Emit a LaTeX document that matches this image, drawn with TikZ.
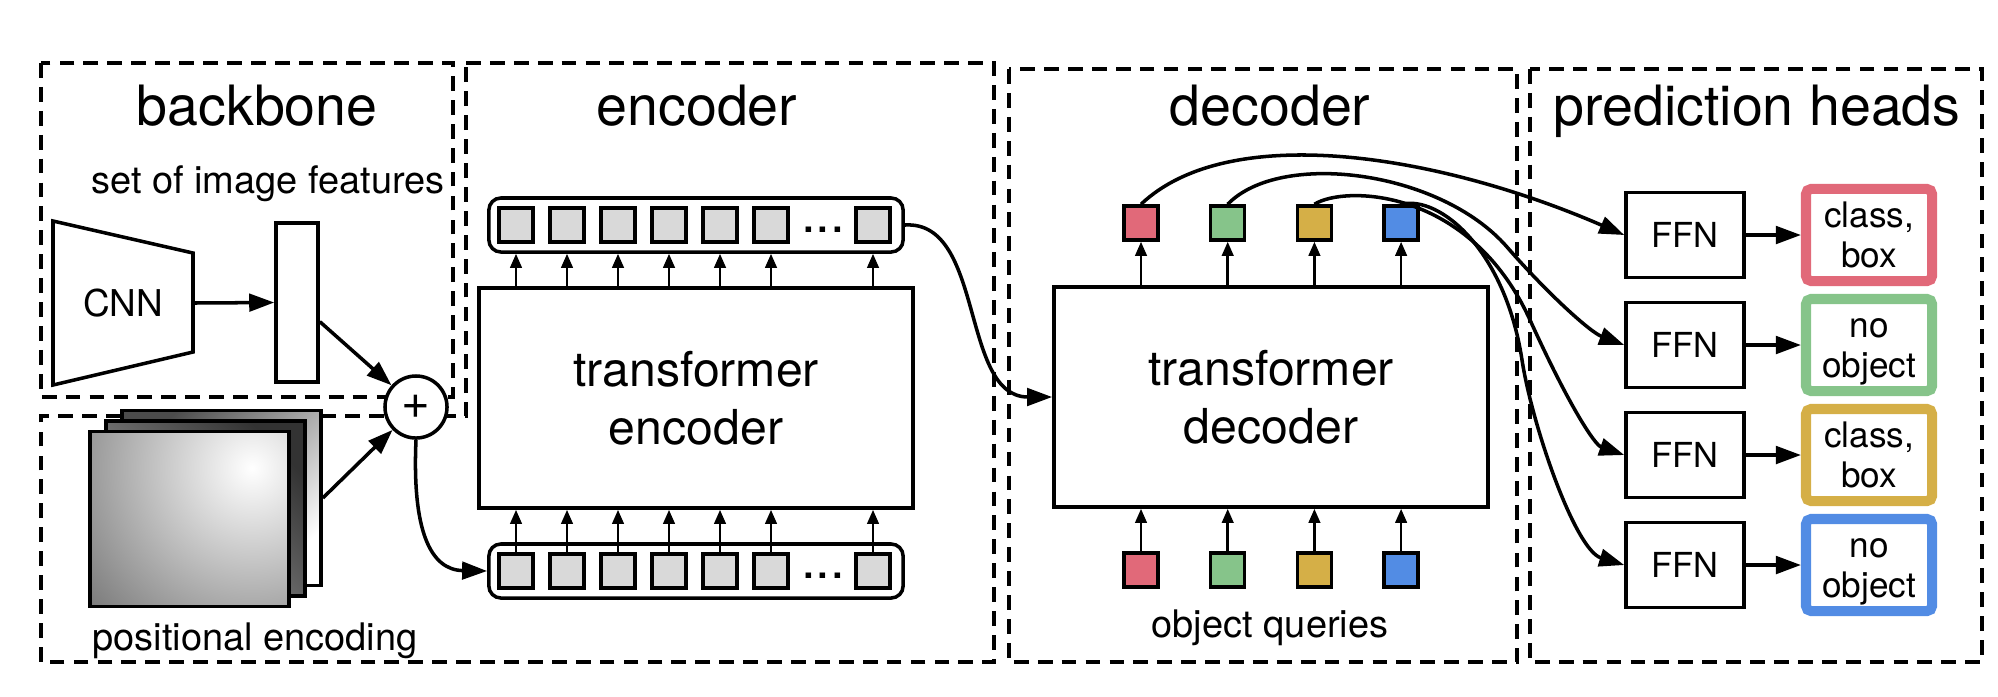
\documentclass[tikz,border=0pt]{standalone}
\usepackage{fontspec}
\setmainfont{TeX Gyre Heros}
\usetikzlibrary{arrows.meta}
\definecolor{qred}{RGB}{225,105,121}
\definecolor{qgreen}{RGB}{134,196,138}
\definecolor{qyellow}{RGB}{213,175,71}
\definecolor{qblue}{RGB}{82,140,228}
\definecolor{tokgray}{RGB}{217,217,217}
\tikzset{
    region/.style={draw, line width=1.05pt, dash pattern=on 4.2pt off 2.6pt},
    regiontitle/.style={anchor=base, font=\fontsize{15.8}{19}\selectfont},
    note/.style={anchor=base, font=\fontsize{10.8}{13}\selectfont},
    bigbox/.style={draw, minimum width=4.34cm, minimum height=2.2cm, inner sep=0pt, align=center, font=\fontsize{13.7}{16.5}\selectfont},
    bar/.style={draw, rounded corners=1.2mm, minimum width=4.14cm, minimum height=5.4mm, inner sep=0pt},
    token/.style={draw, fill=tokgray, minimum size=3.4mm, inner sep=0pt},
    query/.style={draw, minimum size=3.4mm, inner sep=0pt},
    imgframe/.style={draw, minimum width=1.99cm, minimum height=1.75cm, inner sep=0pt},
    ffnbox/.style={draw, minimum width=1.18cm, minimum height=8.5mm, inner sep=0pt, font=\fontsize{9.8}{12}\selectfont},
    outbox/.style={draw, line width=2.85pt, rounded corners=0.5mm, minimum width=1.26cm, minimum height=9.2mm, inner sep=0pt, align=center, text depth=0pt, font=\fontsize{10}{11.4}\selectfont},
    tinyarr/.style={-{Triangle[length=1.4mm,width=1.15mm]}, line width=0.7pt}
}
\begin{document}
\begin{tikzpicture}[x=0.01cm, y=-0.01cm, line width=1pt, >={Triangle[length=2.5mm,width=1.75mm]}]
    \useasboundingbox (0,0) rectangle (1998,696);

    \draw[region] (41,63) rectangle (453,397);
    \draw[region] (466,63) -- (994,63) -- (994,662) -- (41,662) -- (41,416) -- (466,416) -- cycle;
    \draw[region] (1009,69) rectangle (1517,662);
    \draw[region] (1530,69) rectangle (1982,662);

    \node[regiontitle] (tbackbone) at (257,125) {backbone};
    \node[regiontitle] (tencoder) at (697,125) {encoder};
    \node[regiontitle] (tdecoder) at (1270,125) {decoder};
    \node[regiontitle] (theads) at (1757,125) {prediction heads};

    \node[note] (feattxt) at (268,193) {set of image features};
    \draw (53,221) -- (193,253) -- (193,352) -- (53,385) -- cycle;
    \node[font=\fontsize{10.5}{12}\selectfont] (cnn) at (123,303) {CNN};
    \coordinate (cnnout) at (193,303);
    \node[draw, minimum width=4.2mm, minimum height=15.9mm, inner sep=0pt] (feat) at (297,302.5) {};
    \draw[->] (cnnout) -- (feat.west);

    \shade[top color=black!70, bottom color=white, shading angle=45] (122,411) rectangle (321,585);
    \node[imgframe] (pe1) at (221.5,498) {};
    \shade[top color=black!80, bottom color=black!40, shading angle=-45] (106,421) rectangle (305,596);
    \node[imgframe] (pe2) at (205.5,508.5) {};
    \begin{scope}
        \clip (90,431) rectangle (289,607);
        \shade[inner color=white, outer color=black!90] (252,468) circle (370);
    \end{scope}
    \node[imgframe] (pe3) at (189.5,519) {};
    \node[note] (petxt) at (255,650) {positional encoding};

    \node[circle, draw, fill=white, minimum size=6.2mm, inner sep=0pt, font=\fontsize{14}{14}\selectfont] (plus) at (416,407) {+};
    \draw[->] (feat.-40) -- (plus);
    \draw[->] (pe1.east) -- (plus);

    \node[bigbox] (enc) at (696,398) {transformer\\encoder};
    \node[bar] (upbar) at (696,225) {};
    \node[bar] (lowbar) at (696,571) {};
    \foreach \k in {0,1,2,3,4,5,7} {
        \node[token] (up\k) at (516+51*\k,225) {};
        \node[token] (low\k) at (516+51*\k,571) {};
        \draw[tinyarr] (enc.north -| up\k) -- (upbar.south -| up\k);
        \draw[tinyarr] (low\k.north) -- (enc.south -| low\k);
    }
    \node[anchor=base, font=\fontsize{15}{16}\selectfont] (dotsup) at (823,232) {...};
    \node[anchor=base, font=\fontsize{15}{16}\selectfont] (dotslow) at (823,578) {...};
    \draw[->] (plus.south) .. controls (412,530) and (430,570) .. (lowbar.west);

    \node[bigbox] (dec) at (1271,397) {transformer\\decoder};
    \draw[->] (upbar.east) .. controls (985,220) and (960,397) .. (dec.west);
    \foreach \c/\t [count=\i] in {qred/{class,\\box}, qgreen/{no\vphantom{l}\\object}, qyellow/{class,\\box}, qblue/{no\vphantom{l}\\object}} {
        \node[query, fill=\c] (q\i) at (1054.3+86.7*\i,223) {};
        \node[query, fill=\c] (qin\i) at (1054.3+86.7*\i,570) {};
        \draw[tinyarr] (dec.north -| q\i) -- (q\i.south);
        \draw[tinyarr] (qin\i.north) -- (dec.south -| qin\i);
        \node[ffnbox] (ffn\i) at (1685,125+110*\i) {FFN};
        \node[outbox, draw=\c] (out\i) at (1869,125+110*\i) {\t};
        \draw[->] (ffn\i.east) -- (out\i.west);
    }
    \node[note] (oqtxt) at (1270,637) {object queries};

    \draw[->] (q1.north) .. controls (1230,120) and (1440,155) .. (ffn1.west);
    \draw[->] (q2.north) .. controls (1280,150) and (1440,170) .. (1507,247) .. controls (1547,293) and (1590,332) .. (ffn2.west);
    \draw[->] (q3.north) .. controls (1345,185) and (1470,188) .. (1530,320) .. controls (1570,408) and (1595,445) .. (ffn3.west);
    \draw[->] (q4.north) .. controls (1440,195) and (1505,250) .. (1522,360) .. controls (1532,425) and (1575,550) .. (ffn4.west);
\end{tikzpicture}
\end{document}
